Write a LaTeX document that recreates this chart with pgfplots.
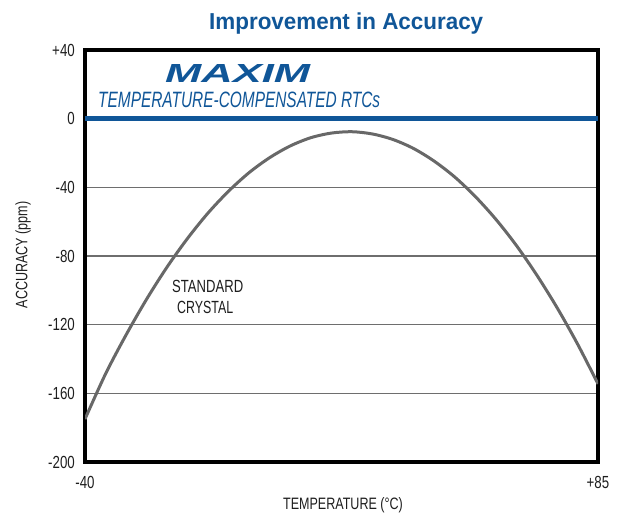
\documentclass[border=0pt]{standalone}
\usepackage{pgfplots}
\pgfplotsset{compat=1.18}
\usepackage{fontspec}
\setmainfont{Liberation Sans}
\newfontfamily\cond[FakeStretch=0.76]{Liberation Sans}
\definecolor{maximblue}{RGB}{16,86,152}
\definecolor{curvegray}{RGB}{104,104,104}
\definecolor{gridgray}{RGB}{110,110,110}
\definecolor{txt}{RGB}{30,30,30}
\begin{document}
\begin{tikzpicture}
\useasboundingbox (-85pt,-55pt) rectangle (532pt,462pt);
\begin{axis}[
  at={(0,0)}, anchor=south west,
  scale only axis, width=513pt, height=412pt,
  xmin=-40, xmax=85, ymin=-200, ymax=40,
  xtick={-40,85}, xticklabels={-40,+85},
  ytick={-200,-160,-120,-80,-40,0,40},
  yticklabels={-200,-160,-120,-80,-40,0,+40},
  major tick length=0pt,
  axis line style={line width=3.5pt, black},
  ymajorgrids, grid style={gridgray, line width=1.5pt},
  tick label style={font=\cond\fontsize{17.5}{19}\selectfont, text=txt},
  yticklabel style={anchor=east, inner sep=0pt, xshift=-10pt},
  xticklabel style={anchor=center, inner sep=0pt, yshift=-20pt},
]
\addplot[maximblue, line width=4.5pt] coordinates {(-40,0) (85,0)};
\addplot[curvegray, line width=3pt, smooth] coordinates {
(-40,-175) (-35,-148.7) (-30,-126.0) (-25,-105.2) (-20,-86.4) (-15,-69.7)
(-10,-54.9) (-5,-42.2) (0,-31.4) (5,-22.7) (10,-15.9) (15,-11.1)
(20,-8.4) (25,-7.6) (30,-8.9) (35,-12.1) (40,-17.3) (45,-24.6)
(50,-33.8) (55,-45.1) (60,-58.3) (65,-73.5) (70,-90.8) (75,-110.0)
(80,-131.2) (85,-154.5)};
\end{axis}
\node[anchor=center, rotate=90, inner sep=0pt, text=txt, font=\cond\fontsize{16.5}{18}\selectfont] at (-62pt,207pt) {ACCURACY (ppm)};
\node[anchor=center, inner sep=0pt, text=txt, font=\cond\fontsize{16.5}{18}\selectfont] at (258pt,-43pt) {TEMPERATURE (°C)};
\node[anchor=base west, inner sep=0pt, text=maximblue] at (124pt,432.7pt)
  {\resizebox{274pt}{16.7pt}{\bfseries Improvement in Accuracy}};
\node[anchor=base west, inner sep=0pt, text=maximblue] at (80pt,379pt)
  {\resizebox{145pt}{18pt}{\bfseries\itshape MAXIM}};
\node[anchor=base west, inner sep=0pt, text=maximblue] at (13pt,354.7pt)
  {\resizebox{282pt}{15.5pt}{\itshape TEMPERATURE-COMPENSATED RTCs}};
\node[anchor=base west, inner sep=0pt, text=txt] at (87pt,170pt)
  {\resizebox{71pt}{12.3pt}{STANDARD}};
\node[anchor=base west, inner sep=0pt, text=txt] at (92pt,149pt)
  {\resizebox{56pt}{12.3pt}{CRYSTAL}};
\end{tikzpicture}
\end{document}
